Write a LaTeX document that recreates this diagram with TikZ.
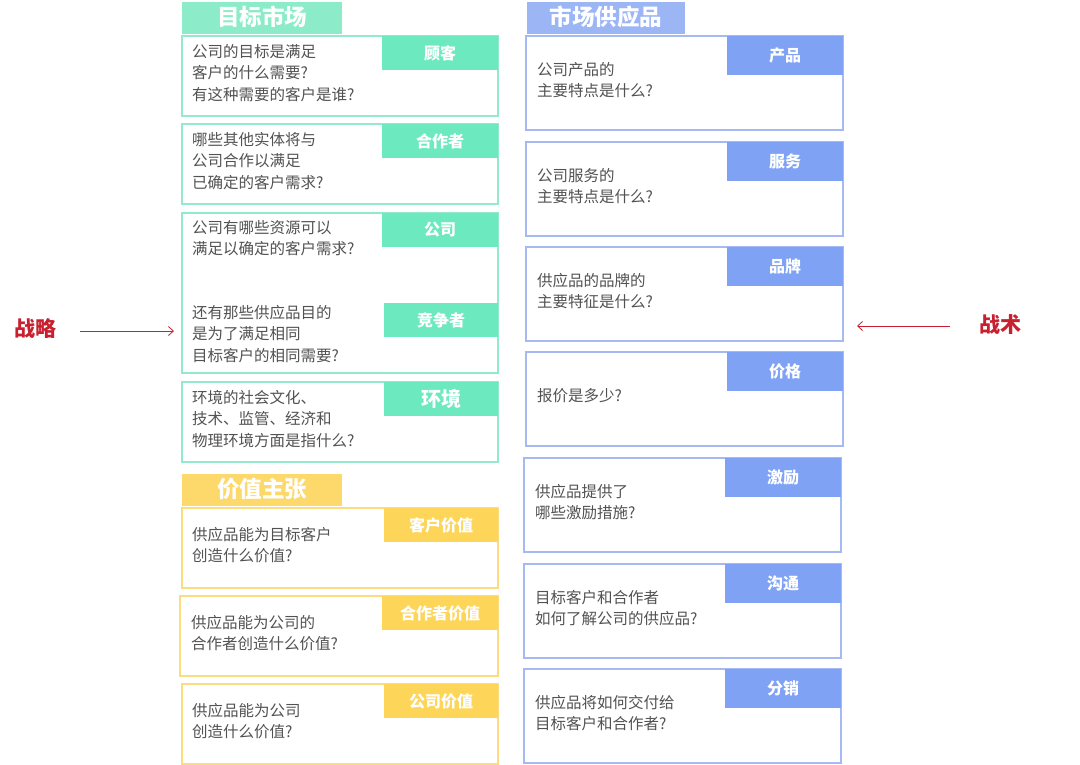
\documentclass[tikz,border=0pt]{standalone}
\usepackage{fontspec}
\usetikzlibrary{arrows.meta}
\setmainfont{Noto Sans CJK SC}
\begin{document}
\begin{tikzpicture}[x=1pt,y=-1pt,
  every node/.style={inner sep=0pt},
  txt/.style={anchor=north west,align=left,text=black!68,font=\fontsize{15.5}{21.5}\selectfont},
  lbl/.style={text=white,font=\fontsize{16}{18}\selectfont\bfseries},
  ttl/.style={text=white,font=\fontsize{22.5}{24}\selectfont\bfseries},
  red/.style={text=redc,font=\fontsize{21}{23}\selectfont\bfseries}]
\definecolor{gb}{HTML}{92E9CB}\definecolor{gf}{HTML}{6DE9BF}\definecolor{gt}{HTML}{8CEBC8}
\definecolor{yb}{HTML}{FBDC7E}\definecolor{yf}{HTML}{FDD558}\definecolor{yt}{HTML}{FDD86A}
\definecolor{bb}{HTML}{A5BAF3}\definecolor{bf}{HTML}{7FA2F5}\definecolor{bt}{HTML}{9CB5F5}
\definecolor{redc}{HTML}{C8202F}
\useasboundingbox (0,0) rectangle (1080,764);
\fill[white] (0,0) rectangle (1080,764);
% left
\fill[gt] (182,2) rectangle (342,34); \node[ttl] (t1) at (262,17) {目标市场};
\newcommand\bx[9]{% x1 y1 x2 y2 lx1 ly2 col fill label
  \draw[#7,line width=1.5pt] (#1,#2) rectangle (#3,#4);
  \fill[#8] (#5,#2) rectangle (#3,#6);
  \node[lbl] at ({(#5+#3)/2},{(#2+#6)/2}) {#9};}
\bx{182}{36}{498}{116}{382}{70}{gb}{gf}{顾客}
\node[txt] (a1) at (192,44) {公司的目标是满足\\客户的什么需要?\\有这种需要的客户是谁?};
\bx{182}{124}{498}{204}{382}{158}{gb}{gf}{合作者}
\node[txt] (a2) at (192,132) {哪些其他实体将与\\公司合作以满足\\已确定的客户需求?};
\bx{182}{213}{498}{373}{382}{247}{gb}{gf}{公司}
\fill[gf] (384,303) rectangle (498,337); \node[lbl] at (441,320) {竞争者};
\node[txt] (a3) at (192,220) {公司有哪些资源可以\\满足以确定的客户需求?};
\node[txt] (a4) at (192,305) {还有那些供应品目的\\是为了满足相同\\目标客户的相同需要?};
\draw[gb,line width=1.5pt] (182,382) rectangle (498,462);
\fill[gf] (384,382) rectangle (498,416); \node[lbl,font=\fontsize{20}{22}\selectfont\bfseries] at (441,399) {环境};
\node[txt] (a5) at (192,390) {环境的社会文化、\\技术、监管、经济和\\物理环境方面是指什么?};
\fill[yt] (182,474) rectangle (342,506); \node[ttl] (t2) at (262,489) {价值主张};
\bx{182}{508}{498}{588}{384}{542}{yb}{yf}{客户价值}
\node[txt] (a6) at (192,527) {供应品能为目标客户\\创造什么价值?};
\bx{180}{596}{498}{676}{382}{630}{yb}{yf}{合作者价值}
\node[txt] (a7) at (191,615) {供应品能为公司的\\合作者创造什么价值?};
\bx{182}{684}{498}{764}{384}{718}{yb}{yf}{公司价值}
\node[txt] (a8) at (192,703) {供应品能为公司\\创造什么价值?};
% right
\fill[bt] (527,2) rectangle (685,34); \node[ttl] (t3) at (606,17) {市场供应品};
\bx{526}{36}{843}{130}{727}{75}{bb}{bf}{产品}
\node[txt] (b1) at (537,62) {公司产品的\\主要特点是什么?};
\bx{526}{142}{843}{236}{727}{181}{bb}{bf}{服务}
\node[txt] (b2) at (537,168) {公司服务的\\主要特点是什么?};
\bx{526}{247}{843}{341}{727}{286}{bb}{bf}{品牌}
\node[txt] (b3) at (537,273) {供应品的品牌的\\主要特征是什么?};
\bx{526}{352}{843}{446}{727}{391}{bb}{bf}{价格}
\node[txt] (b4) at (537,388) {报价是多少?};
\bx{524}{458}{841}{552}{725}{497}{bb}{bf}{激励}
\node[txt] (b5) at (535,484) {供应品提供了\\哪些激励措施?};
\bx{524}{564}{841}{658}{725}{603}{bb}{bf}{沟通}
\node[txt] (b6) at (535,590) {目标客户和合作者\\如何了解公司的供应品?};
\bx{524}{669}{841}{763}{725}{708}{bb}{bf}{分销}
\node[txt] (b7) at (535,695) {供应品将如何交付给\\目标客户和合作者?};
% arrows
\node[red] (s) at (36,329) {战略};
\coordinate (se) at (174,331);
\draw[redc,line width=0.8pt,-{Straight Barb[length=5pt,width=9pt]}] (80,331) -- (se);
\node[red] (z) at (1000,325) {战术};
\coordinate (ze) at (857,326);
\draw[redc,line width=0.8pt,-{Straight Barb[length=5pt,width=9pt]}] (950,326) -- (ze);
\end{tikzpicture}
\end{document}
